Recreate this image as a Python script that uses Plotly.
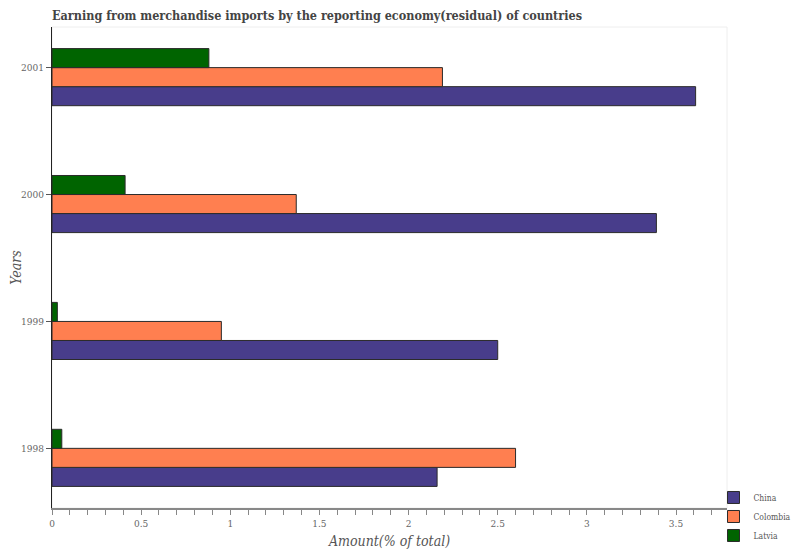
import plotly.graph_objects as go

# Data
years = ["1998", "1999", "2000", "2001"]
china = [2.16, 2.50, 3.39, 3.61]
colombia = [2.60, 0.95, 1.37, 2.19]
latvia = [0.055, 0.03, 0.41, 0.88]

COLORS = {
    "China": "#483D8B",
    "Colombia": "#FF7F50",
    "Latvia": "#006400",
}

FONT = "DejaVu Serif Condensed, DejaVu Serif, serif"

fig = go.Figure()

for name, vals in [("China", china), ("Colombia", colombia), ("Latvia", latvia)]:
    fig.add_trace(go.Bar(
        x=vals,
        y=years,
        name=name,
        orientation="h",
        marker=dict(color=COLORS[name], line=dict(color="#2b2b2b", width=1)),
    ))

# empty slot so the groups sit off-centre like the original
fig.add_trace(go.Bar(
    x=[None] * len(years),
    y=years,
    orientation="h",
    showlegend=False,
    hoverinfo="skip",
))

# page body adds an 8px offset, so the figure is sized to fit inside it
fig.update_layout(
    width=792,
    height=542,
    template="plotly_white",
    paper_bgcolor="white",
    plot_bgcolor="white",
    font=dict(family=FONT, size=10, color="#555"),
    title=dict(
        text="<b>Earning from merchandise imports by the reporting economy(residual) of countries</b>",
        xref="paper", x=0, xanchor="left",
        yref="container", y=0.986, yanchor="middle",
        font=dict(family=FONT, size=12.5, color="#444"),
    ),
    margin=dict(l=44, r=73, t=19, b=42, autoexpand=False),
    barmode="group",
    bargap=0.4,
    bargroupgap=0,
    legend=dict(
        x=0.980, xanchor="left",
        y=0.052, yanchor="top",
        font=dict(family=FONT, size=8.5, color="#555"),
        bgcolor="rgba(0,0,0,0)",
        tracegroupgap=0,
        itemwidth=30,
    ),
    xaxis=dict(
        range=[0, 3.786],
        dtick=0.5,
        automargin=False,
        showgrid=False,
        zeroline=False,
        showline=True,
        linecolor="#888",
        linewidth=2,
        ticks="outside",
        ticklen=5,
        tickcolor="#888",
        tickfont=dict(family=FONT, size=10, color="#666"),
        minor=dict(dtick=0.1, ticks="outside", ticklen=5, tickcolor="#888", showgrid=False),
        title=dict(
            text="<i>Amount(% of total)</i>",
            font=dict(family=FONT, size=14, color="#555"),
            standoff=8,
        ),
    ),
    yaxis=dict(
        type="category",
        range=[-0.47, 3.32],
        automargin=False,
        showgrid=False,
        zeroline=False,
        showline=True,
        linecolor="#222",
        linewidth=1,
        ticks="outside",
        ticklen=5,
        tickcolor="#555",
        tickfont=dict(family=FONT, size=10, color="#666"),
        title=dict(
            text="<i>Years</i>",
            font=dict(family=FONT, size=14, color="#555"),
            standoff=16,
        ),
    ),
    shapes=[dict(
        type="rect", xref="paper", yref="paper",
        x0=0, x1=1, y0=0, y1=1,
        line=dict(color="#eeeeee", width=1),
        layer="below",
    )],
)

fig.write_html("out.html")
